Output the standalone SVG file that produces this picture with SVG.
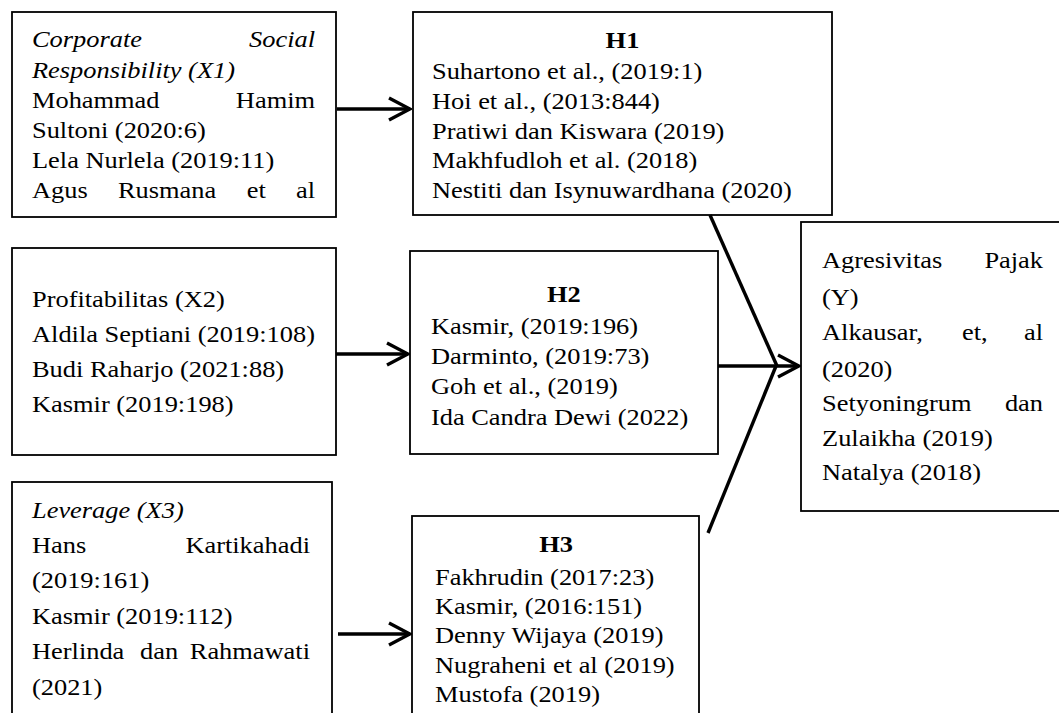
<svg xmlns="http://www.w3.org/2000/svg" width="1059" height="713" viewBox="0 0 1059 713">
  <style>
    .box { fill: #ffffff; stroke: #000000; stroke-width: 1.8; }
    .t { font-family: "Liberation Serif", "Times New Roman", serif; font-size: 24px; fill: #000000; }
    .i { font-style: italic; }
    .b { font-weight: bold; text-anchor: middle; }
    .e { text-anchor: end; }
    .c { fill: none; stroke: #000000; stroke-width: 3.4; stroke-linecap: butt; }
  </style>
  <defs>
    <marker id="chev" markerUnits="userSpaceOnUse" viewBox="-24 -13 26 26" markerWidth="26" markerHeight="26" refX="0" refY="0" orient="auto">
      <path d="M -21 -11 L 0 0 L -21 11" fill="none" stroke="#000000" stroke-width="3.4" stroke-linejoin="miter"/>
    </marker>
  </defs>
  <rect x="0" y="0" width="1059" height="713" fill="#ffffff"/>

  <g id="x1">
    <rect class="box" x="12" y="12" width="324" height="205"/>
    <g transform="scale(1.1 1)">
      <text class="t i" x="29.1" y="47">Corporate</text>
      <text class="t i e" x="286.4" y="47">Social</text>
      <text class="t i" x="29.1" y="78">Responsibility (X1)</text>
      <text class="t" x="29.1" y="108">Mohammad</text>
      <text class="t e" x="286.4" y="108">Hamim</text>
      <text class="t" x="29.1" y="138">Sultoni (2020:6)</text>
      <text class="t" x="29.1" y="168">Lela Nurlela (2019:11)</text>
      <text class="t" x="29.1" y="198">Agus</text>
      <text class="t" x="107.3" y="198">Rusmana</text>
      <text class="t" x="224.4" y="198">et</text>
      <text class="t e" x="286.4" y="198">al</text>
    </g>
  </g>

  <g id="h1">
    <rect class="box" x="413" y="12" width="419" height="203"/>
    <g transform="scale(1.1 1)">
      <text class="t b" x="565.9" y="48">H1</text>
      <text class="t" x="392.7" y="79">Suhartono et al., (2019:1)</text>
      <text class="t" x="392.7" y="109">Hoi et al., (2013:844)</text>
      <text class="t" x="392.7" y="139">Pratiwi dan Kiswara (2019)</text>
      <text class="t" x="392.7" y="168">Makhfudloh et al. (2018)</text>
      <text class="t" x="392.7" y="198">Nestiti dan Isynuwardhana (2020)</text>
    </g>
  </g>

  <g id="x2">
    <rect class="box" x="12" y="248" width="324" height="207"/>
    <g transform="scale(1.1 1)">
      <text class="t" x="29.1" y="307">Profitabilitas (X2)</text>
      <text class="t" x="29.1" y="342">Aldila Septiani (2019:108)</text>
      <text class="t" x="29.1" y="377">Budi Raharjo (2021:88)</text>
      <text class="t" x="29.1" y="412">Kasmir (2019:198)</text>
    </g>
  </g>

  <g id="h2">
    <rect class="box" x="410" y="251" width="308" height="203"/>
    <g transform="scale(1.1 1)">
      <text class="t b" x="512.7" y="302">H2</text>
      <text class="t" x="391.8" y="334">Kasmir, (2019:196)</text>
      <text class="t" x="391.8" y="364">Darminto, (2019:73)</text>
      <text class="t" x="391.8" y="394">Goh et al., (2019)</text>
      <text class="t" x="391.8" y="425">Ida Candra Dewi (2022)</text>
    </g>
  </g>

  <g id="y">
    <rect class="box" x="801" y="222" width="270" height="289"/>
    <g transform="scale(1.1 1)">
      <text class="t" x="747.3" y="268">Agresivitas</text>
      <text class="t e" x="948.2" y="268">Pajak</text>
      <text class="t" x="747.3" y="305">(Y)</text>
      <text class="t" x="747.3" y="340">Alkausar,</text>
      <text class="t" x="874.5" y="340">et,</text>
      <text class="t e" x="948.2" y="340">al</text>
      <text class="t" x="747.3" y="377">(2020)</text>
      <text class="t" x="747.3" y="411">Setyoningrum</text>
      <text class="t e" x="948.2" y="411">dan</text>
      <text class="t" x="747.3" y="446">Zulaikha (2019)</text>
      <text class="t" x="747.3" y="480">Natalya (2018)</text>
    </g>
  </g>

  <g id="x3">
    <rect class="box" x="12" y="482" width="320" height="250"/>
    <g transform="scale(1.1 1)">
      <text class="t i" x="29.1" y="518">Leverage (X3)</text>
      <text class="t" x="29.1" y="553">Hans</text>
      <text class="t e" x="281.8" y="553">Kartikahadi</text>
      <text class="t" x="29.1" y="588">(2019:161)</text>
      <text class="t" x="29.1" y="624">Kasmir (2019:112)</text>
      <text class="t" x="29.1" y="659">Herlinda</text>
      <text class="t" x="127.3" y="659">dan</text>
      <text class="t e" x="281.8" y="659">Rahmawati</text>
      <text class="t" x="29.1" y="695">(2021)</text>
    </g>
  </g>

  <g id="h3">
    <rect class="box" x="412" y="516" width="287" height="216"/>
    <g transform="scale(1.1 1)">
      <text class="t b" x="505.5" y="552">H3</text>
      <text class="t" x="395.5" y="585">Fakhrudin (2017:23)</text>
      <text class="t" x="395.5" y="614">Kasmir, (2016:151)</text>
      <text class="t" x="395.5" y="643">Denny Wijaya (2019)</text>
      <text class="t" x="395.5" y="673">Nugraheni et al (2019)</text>
      <text class="t" x="395.5" y="702">Mustofa (2019)</text>
    </g>
  </g>

  <g id="connectors">
    <line class="c" x1="337" y1="109" x2="410" y2="109" marker-end="url(#chev)"/>
    <line class="c" x1="336" y1="354" x2="408" y2="354" marker-end="url(#chev)"/>
    <line class="c" x1="338" y1="634" x2="410" y2="634" marker-end="url(#chev)"/>
    <line class="c" x1="710" y1="215" x2="777" y2="366"/>
    <line class="c" x1="708" y1="533" x2="776" y2="366"/>
    <line class="c" x1="718" y1="366" x2="799" y2="366" marker-end="url(#chev)"/>
  </g>
</svg>
